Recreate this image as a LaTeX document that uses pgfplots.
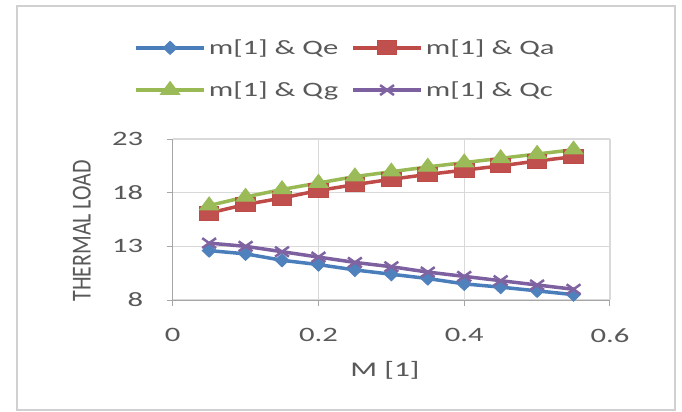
\documentclass[border=0pt]{standalone}
\usepackage{fontspec}
\setmainfont[FakeStretch=1.5]{Carlito}
\newfontfamily\ylabfont{Carlito}
\usepackage{graphicx}
\usepackage{pgfplots}
\pgfplotsset{compat=1.18}
\definecolor{cblue}{HTML}{4F81BD}
\definecolor{cblueline}{HTML}{4A7EBB}
\definecolor{cred}{HTML}{C0504D}
\definecolor{credline}{HTML}{BE4B48}
\definecolor{cgreen}{HTML}{9BBB59}
\definecolor{cgreenline}{HTML}{98B954}
\definecolor{cpurple}{HTML}{8064A2}
\definecolor{cpurpleline}{HTML}{7D60A0}
\definecolor{textgray}{HTML}{595959}
\definecolor{axgray}{HTML}{A6A6A6}
\definecolor{gridgray}{HTML}{D9D9D9}
\definecolor{bordergray}{HTML}{D0D0D0}
\begin{document}
\begin{tikzpicture}
\useasboundingbox (-172.7bp,-112bp) rectangle (509.3bp,300bp);
\fill[white] (-172.7bp,-112bp) rectangle (509.3bp,300bp);
\draw[color=bordergray, line width=2bp] (-155.7bp,-110bp) rectangle (502.3bp,294bp);
\begin{axis}[
  scale only axis, width=437.3bp, height=161bp,
  xmin=0, xmax=0.6, ymin=8, ymax=23,
  xtick={0,0.2,0.4,0.6}, ytick={8,13,18,23},
  axis lines=left, axis line style={-, color=axgray, line width=1bp},
  grid=major, major grid style={color=gridgray, line width=1.2bp},
  tick align=outside, major tick length=6bp,
  tick style={color=axgray, line width=1bp},
  ticklabel style={font=\fontsize{20.5}{24}\selectfont, text=textgray},
  /pgf/number format/assume math mode=true,
  xticklabel style={yshift=-19bp},
  yticklabel style={xshift=-20bp},
  xlabel={M [1]},
  xlabel style={at={(axis description cs:0.4855,-0.435)}, anchor=center, font=\fontsize{21}{24}\selectfont, text=textgray},
  ylabel={\ylabfont\fontsize{22}{24}\selectfont\scalebox{1}[1.25]{THERMAL LOAD}},
  ylabel style={at={(axis description cs:-0.208,0.43)}, anchor=center, text=textgray},
  legend columns=2,
  legend cell align=left,
  legend style={at={(axis description cs:0.3963,1.435)}, anchor=center, draw=none, fill=none,
    font=\fontsize{20.5}{24}\selectfont, text=textgray,
    nodes={inner xsep=3bp},
    /tikz/every even column/.append style={column sep=10bp}, row sep=22bp},
  legend image code/.code={\draw[mark repeat=2,mark phase=2] plot coordinates {(0bp,0bp)(34bp,0bp)(68bp,0bp)};},
]
\addplot[color=cblueline, line width=3.5bp, mark=diamond*, mark size=6.5bp,
  mark options={fill=cblue, draw=cblue, xscale=1.4, line width=1bp, solid}]
  coordinates {(0.05,12.6)(0.10,12.3)(0.15,11.7)(0.20,11.3)(0.25,10.8)(0.30,10.4)(0.35,10.0)(0.40,9.5)(0.45,9.2)(0.50,8.85)(0.55,8.5)};
\addlegendentry{m[1] \& Qe}
\addplot[color=credline, line width=3.5bp, mark=square*, mark size=7bp,
  mark options={fill=cred, draw=credline, xscale=1.4, line width=1bp, solid}]
  coordinates {(0.05,16.1)(0.10,16.9)(0.15,17.5)(0.20,18.2)(0.25,18.75)(0.30,19.25)(0.35,19.7)(0.40,20.1)(0.45,20.5)(0.50,20.95)(0.55,21.35)};
\addlegendentry{m[1] \& Qa}
\addplot[color=cgreenline, line width=3.5bp, mark=triangle*, mark size=8.5bp,
  mark options={fill=cgreen, draw=cgreen, xscale=1.3, line width=1bp, solid}]
  coordinates {(0.05,16.8)(0.10,17.6)(0.15,18.3)(0.20,18.9)(0.25,19.5)(0.30,19.95)(0.35,20.4)(0.40,20.8)(0.45,21.2)(0.50,21.6)(0.55,22.0)};
\addlegendentry{m[1] \& Qg}
\addplot[color=cpurpleline, line width=3.5bp, mark=x, mark size=7bp,
  mark options={draw=cpurple, xscale=1.4, line width=2.5bp, solid}]
  coordinates {(0.05,13.3)(0.10,13.0)(0.15,12.5)(0.20,12.0)(0.25,11.5)(0.30,11.1)(0.35,10.6)(0.40,10.2)(0.45,9.8)(0.50,9.4)(0.55,9.0)};
\addlegendentry{m[1] \& Qc}
\end{axis}
\end{tikzpicture}
\end{document}
